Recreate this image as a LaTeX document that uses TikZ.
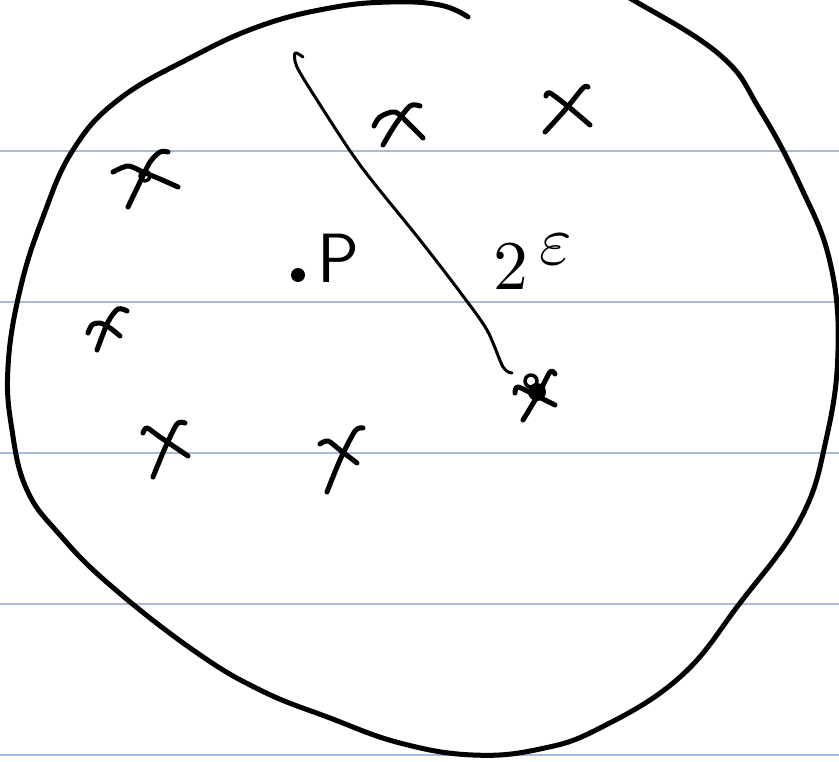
\documentclass[tikz,border=0pt]{standalone}
\usepackage{graphicx}
\usetikzlibrary{positioning}
\definecolor{ruleblue}{RGB}{168,188,216}

\begin{document}
\begin{tikzpicture}[x=1bp, y=-1bp,
		line cap=round, line join=round,
		ruling/.style={ruleblue, line width=1.5bp},
		rim/.style={line width=5bp},
		crossline/.style={line width=5bp},
		radiusline/.style={line width=3bp}]
		\useasboundingbox (0,0) rectangle (839,762);
		
		% Ruled paper
		\foreach \yy in {151,302,453,604,755}
			\draw[ruling] (0,\yy) -- (839,\yy);
		
		% Ball
		\draw[rim] plot[smooth, tension=0.7] coordinates {(468,17) (440,5) (390,2) (330,8) (260,26) (190,58) (118,100) (73,150) (43,217) (20,290) (8,367) (12,430) (27,490) (60,535) (110,585) (193,650) (260,690) (330,718) (400,743) (473,755) (540,749) (600,728) (680,677) (740,603) (800,520) (826,440) (838,350) (830,262) (800,185) (760,110) (720,55) (633,0) (600,-16)};
		
		% Radius
		\coordinate (top) at (303,57);
		\coordinate (far) at (512,373);
		\draw[radiusline] plot[smooth, tension=0.5] coordinates {(top) (295,53) (297,67) (317,100) (360,165) (420,240) (460,292) (487,330) (503,367) (far)};
		
		% Points
		\draw[crossline] plot[smooth] coordinates {(113,172) (128,166) (143,172) (160,179) (178,187)};
		\draw[crossline] plot[smooth] coordinates {(168,152) (160,152) (150,162) (140,182) (128,207)};
		\draw[line width=3.5bp] (145,176) circle (5);
		
		\draw[crossline] plot[smooth] coordinates {(88,333) (92,325) (100,323) (110,328) (120,336)};
		\draw[crossline] plot[smooth] coordinates {(127,311) (118,309) (108,322) (97,350)};
		
		\draw[crossline] plot[smooth] coordinates {(143,433) (147,428) (160,437) (188,456)};
		\draw[crossline] plot[smooth] coordinates {(185,423) (177,424) (165,448) (153,477)};
		
		\draw[crossline] plot[smooth] coordinates {(320,444) (328,441) (340,450) (357,463)};
		\draw[crossline] plot[smooth] coordinates {(363,428) (355,431) (340,460) (327,492)};
		
		\draw[crossline] plot[smooth] coordinates {(374,126) (380,117) (395,112) (410,125) (423,138)};
		\draw[crossline] plot[smooth] coordinates {(420,106) (410,106) (395,125) (383,145)};
		
		\draw[crossline] plot[smooth] coordinates {(546,96) (550,93) (570,108) (590,125)};
		\draw[crossline] plot[smooth] coordinates {(588,87) (583,88) (565,110) (545,132)};
		
		\draw[crossline] plot[smooth] coordinates {(515,393) (518,387) (537,396) (555,405)};
		\draw[crossline] plot[smooth] coordinates {(555,374) (550,372) (538,395) (523,420)};
		\fill (537,392) circle (9);
		\draw[line width=3.5bp] (531,381) circle (6);
		
		% Centre
		\fill (298,275) circle (7);
		\node (p) at (338,258) {\fontsize{70}{70}\selectfont\sffamily P};
		
		% Label
		\node (eps) at (533,262) {\scalebox{7}{$2\,\raisebox{0.8ex}{$\varepsilon$}$}};
	\end{tikzpicture}
\end{document}
